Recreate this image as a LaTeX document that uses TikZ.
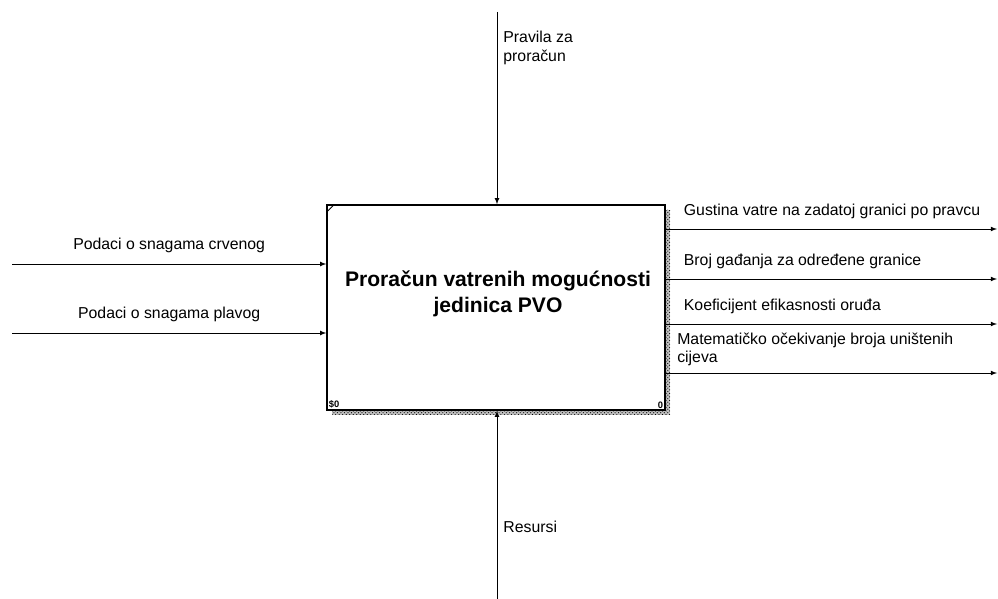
\documentclass[tikz,border=0pt]{standalone}
\usepackage{fontspec}
\setmainfont{Liberation Sans}
\usetikzlibrary{patterns}

\begin{document}
\begin{tikzpicture}[x=0.03cm,y=-0.03cm,
    flow/.style={-latex, thick},
    lbl/.style={font=\fontsize{13.5}{15.5}\selectfont, inner sep=1pt}]
        \useasboundingbox (0,0) rectangle (998,599);

        % shadow
        \fill[black!25] (332,210) rectangle (670,415);
        \fill[pattern=crosshatch dots, pattern color=black] (332,210) rectangle (670,415);

        % activity box
        \node[draw, very thick, fill=white, minimum width=10.14cm, minimum height=6.15cm, inner sep=0] (act) at (496,307.5) {};
        \draw[thick] ([xshift=1pt,yshift=-6pt]act.north west) -- ([xshift=6pt,yshift=-1pt]act.north west);
        \node[font=\bfseries\fontsize{18}{22}\selectfont, align=center] (title) at (498,294) {Proračun vatrenih mogućnosti\\jedinica PVO};
        \node[anchor=south west, font=\bfseries\fontsize{8}{9}\selectfont, inner sep=2pt] (cost) at (act.south west) {\$0};
        \node[anchor=south east, font=\bfseries\fontsize{8}{9}\selectfont, inner sep=2pt] (num) at (act.south east) {0};

        % free ends
        \coordinate (in1) at (12,264);
        \coordinate (in2) at (12,333);
        \coordinate (out1) at (997,229);
        \coordinate (out2) at (997,279);
        \coordinate (out3) at (997,324);
        \coordinate (out4) at (997,373);
        \coordinate (ctl) at (497,12);
        \coordinate (mech) at (497,599);

        % inputs
        \draw[flow] (in1) -- (in1 -| act.west) node [lbl, midway, above=8pt] {Podaci o snagama crvenog};
        \draw[flow] (in2) -- (in2 -| act.west) node [lbl, midway, above=8pt] {Podaci o snagama plavog};

        % outputs
        \draw[flow] (out1 -| act.east) -- (out1) node [lbl, pos=0.05, above=7pt, anchor=south west] {Gustina vatre na zadatoj granici po pravcu};
        \draw[flow] (out2 -| act.east) -- (out2) node [lbl, pos=0.05, above=7pt, anchor=south west] {Broj gađanja za određene granice};
        \draw[flow] (out3 -| act.east) -- (out3) node [lbl, pos=0.05, above=7pt, anchor=south west] {Koeficijent efikasnosti oruđa};
        \draw[flow] (out4 -| act.east) -- (out4) node [lbl, pos=0.03, above=5pt, anchor=south west, align=left] {Matematičko očekivanje broja uništenih\\cijeva};

        % control
        \draw[flow] (ctl) -- (ctl |- act.north);
        \node[lbl, anchor=north west, align=left] (ctltext) at (502,30) {Pravila za\\proračun};

        % mechanism
        \draw[flow] (mech) -- (mech |- act.south);
        \node[lbl, anchor=west] (mechtext) at (502,527) {Resursi};
\end{tikzpicture}
\end{document}
